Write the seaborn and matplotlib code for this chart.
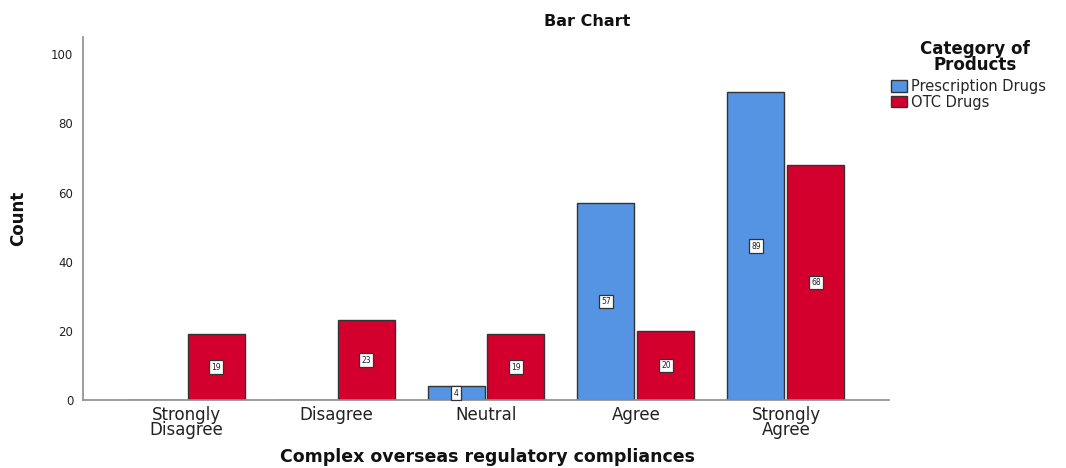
import matplotlib
matplotlib.use("Agg")
import matplotlib.pyplot as plt
from matplotlib.patches import Patch
import seaborn as sns
import pandas as pd

# Response categories and counts per product type
categories = ["Strongly\nDisagree", "Disagree", "Neutral", "Agree", "Strongly\nAgree"]
prescription_counts = [0, 0, 4, 57, 89]
otc_counts = [19, 23, 19, 20, 68]
series_names = ["Prescription Drugs", "OTC Drugs"]
y_ticks = [0, 20, 40, 60, 80, 100]

colors = {"Prescription Drugs": "#5594E2", "OTC Drugs": "#D3002E"}

df = pd.DataFrame({
    "category": categories * 2,
    "count": prescription_counts + otc_counts,
    "product": [series_names[0]] * len(categories) + [series_names[1]] * len(categories),
})

sns.set_theme(style="white")
plt.rcParams["font.family"] = ["DejaVu Sans"]

fig = plt.figure(figsize=(10.66, 4.68), dpi=100)
ax = fig.add_axes([83 / 1066, 1 - 400 / 468, (889 - 83) / 1066, (400 - 37) / 468])

sns.barplot(
    data=df, x="category", y="count", hue="product",
    order=categories, hue_order=series_names, palette=colors,
    width=0.8, gap=0.05, edgecolor="#333333", linewidth=1.0,
    saturation=1, ax=ax, legend=False,
)

# Value labels inside the bars
for container in ax.containers:
    for patch in container:
        h = patch.get_height()
        if h <= 0:
            continue
        ax.text(
            patch.get_x() + patch.get_width() / 2, h / 2, f"{int(round(h))}",
            ha="center", va="center", fontsize=5.5, color="#222222",
            bbox=dict(boxstyle="square,pad=0.3", fc="white", ec="#333333", lw=0.9),
        )

ax.set_xlim(-0.687, 4.687)
ax.set_ylim(0, 105)
ax.set_yticks(y_ticks)
ax.set_yticklabels([str(t) for t in y_ticks], fontsize=8.5)
ax.tick_params(axis="both", length=0, colors="#222222")
ax.tick_params(axis="y", pad=7)
ax.tick_params(axis="x", pad=4)
for lbl in ax.get_xticklabels():
    lbl.set_fontsize(12)
    lbl.set_linespacing(0.8)

for side in ["top", "right"]:
    ax.spines[side].set_visible(False)
for side in ["left", "bottom"]:
    ax.spines[side].set_color("#8c8c8c")
    ax.spines[side].set_linewidth(1.2)

ax.set_xlabel("")
ax.set_ylabel("")

fig.text(587 / 1066, 1 - 22 / 468, "Bar Chart", ha="center", va="center",
         fontsize=11.5, fontweight="bold", color="#111111")
fig.text(487 / 1066, 1 - 457 / 468, "Complex overseas regulatory compliances",
         ha="center", va="center", fontsize=12.5, fontweight="bold", color="#111111")
fig.text(18 / 1066, 1 - 218 / 468, "Count", ha="center", va="center", rotation=90,
         fontsize=12, fontweight="bold", color="#111111")

# Legend
fig.text(975 / 1066, 1 - 57 / 468, "Category of\nProducts", ha="center", va="center",
         fontsize=12, fontweight="bold", color="#111111", linespacing=0.8)
handles = [Patch(facecolor=colors[n], edgecolor="#333333", lw=1.0) for n in series_names]
fig.legend(handles, series_names, loc="upper left",
           bbox_to_anchor=(891 / 1066, 1 - 79 / 468), frameon=False,
           fontsize=10.5, handlelength=1.1, handleheight=0.8, handletextpad=0.25,
           labelspacing=0.05, borderaxespad=0, borderpad=0)

fig.savefig("out.png", dpi=100)
